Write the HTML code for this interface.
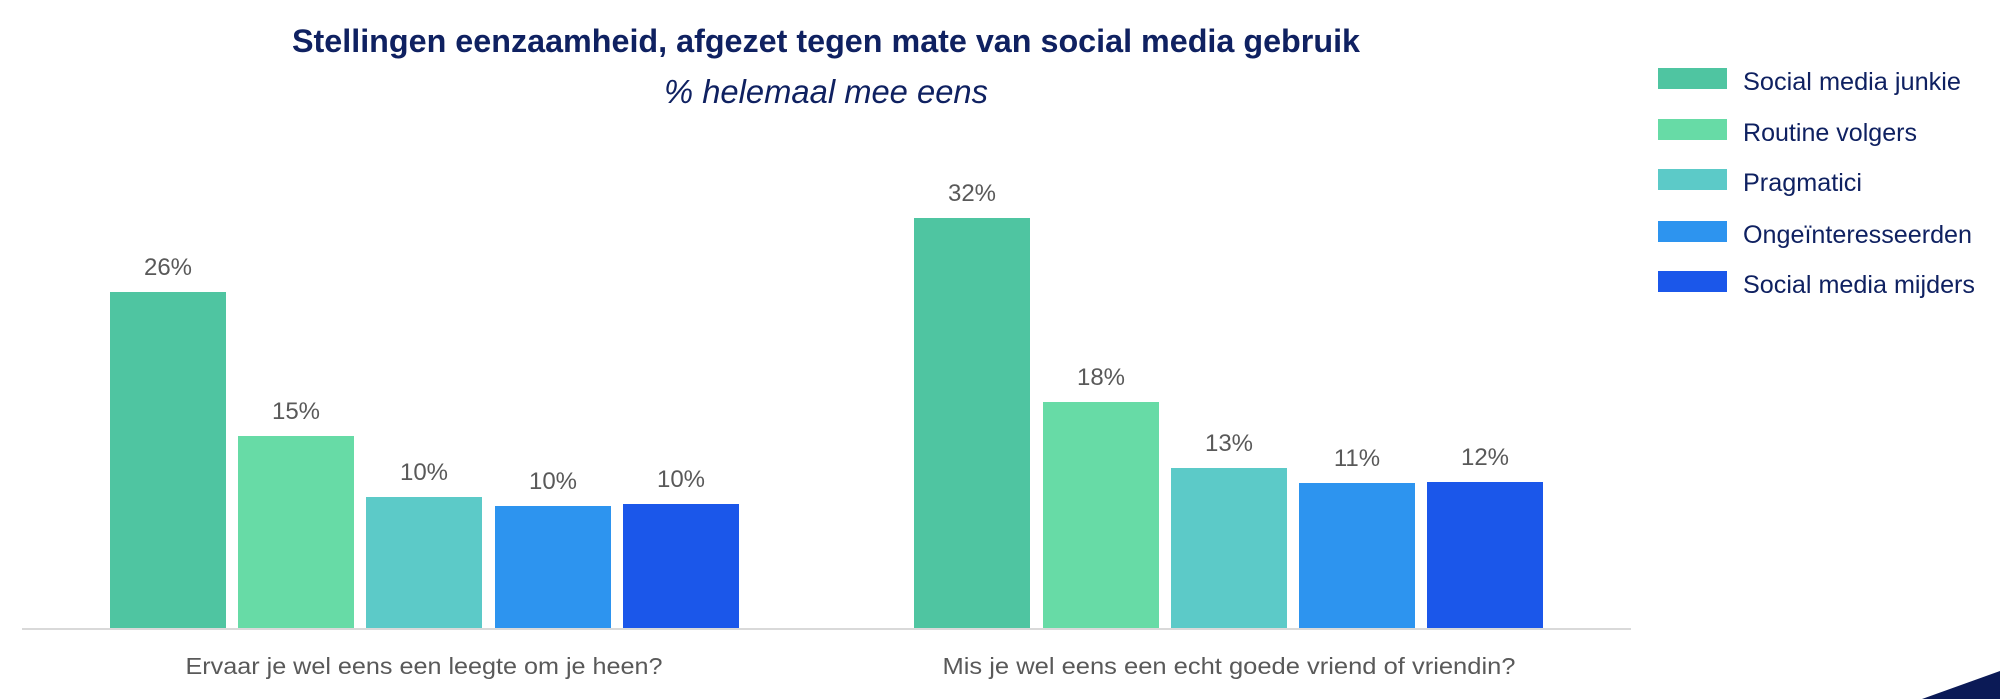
<!DOCTYPE html>
<html>
<head>
<meta charset="utf-8">
<style>
  html, body { margin: 0; padding: 0; background: #ffffff; }
  body { width: 2000px; height: 699px; overflow: hidden; }
  svg { display: block; }
  text { font-family: "Liberation Sans", Arial, sans-serif; }
</style>
</head>
<body>
<svg width="2000" height="699" viewBox="0 0 2000 699" xmlns="http://www.w3.org/2000/svg">
  <rect x="0" y="0" width="2000" height="699" fill="#ffffff"/>

  <!-- Title -->
  <text x="826" y="52" text-anchor="middle" font-size="32" font-weight="bold" fill="#0f2161" textLength="1068" lengthAdjust="spacingAndGlyphs">Stellingen eenzaamheid, afgezet tegen mate van social media gebruik</text>
  <text x="826" y="103" text-anchor="middle" font-size="33" font-style="italic" fill="#0f2161" textLength="324" lengthAdjust="spacingAndGlyphs">% helemaal mee eens</text>

  <!-- Group 1 bars -->
  <rect x="110" y="292" width="116" height="336" fill="#4fc5a1"/>
  <rect x="238" y="436" width="116" height="192" fill="#67dba6"/>
  <rect x="366" y="497" width="116" height="131" fill="#5ccac8"/>
  <rect x="495" y="506" width="116" height="122" fill="#2d94ef"/>
  <rect x="623" y="504" width="116" height="124" fill="#1b57ea"/>

  <!-- Group 2 bars -->
  <rect x="914" y="218" width="116" height="410" fill="#4fc5a1"/>
  <rect x="1043" y="402" width="116" height="226" fill="#67dba6"/>
  <rect x="1171" y="468" width="116" height="160" fill="#5ccac8"/>
  <rect x="1299" y="483" width="116" height="145" fill="#2d94ef"/>
  <rect x="1427" y="482" width="116" height="146" fill="#1b57ea"/>

  <!-- Axis -->
  <line x1="22" y1="629" x2="1631" y2="629" stroke="#d9d9d9" stroke-width="2"/>

  <!-- Value labels -->
  <g font-size="24" fill="#595959" text-anchor="middle">
    <text x="168" y="275">26%</text>
    <text x="296" y="419">15%</text>
    <text x="424" y="480">10%</text>
    <text x="553" y="489">10%</text>
    <text x="681" y="487">10%</text>

    <text x="972" y="201">32%</text>
    <text x="1101" y="385">18%</text>
    <text x="1229" y="451">13%</text>
    <text x="1357" y="466">11%</text>
    <text x="1485" y="465">12%</text>
  </g>

  <!-- Category labels -->
  <text x="424" y="674" text-anchor="middle" font-size="23" fill="#595959" textLength="477" lengthAdjust="spacingAndGlyphs">Ervaar je wel eens een leegte om je heen?</text>
  <text x="1229" y="674" text-anchor="middle" font-size="23" fill="#595959" textLength="573" lengthAdjust="spacingAndGlyphs">Mis je wel eens een echt goede vriend of vriendin?</text>

  <!-- Legend -->
  <g font-size="25" fill="#0f2161">
    <rect x="1658" y="68" width="69" height="21" fill="#4fc5a1"/>
    <text x="1743" y="90" textLength="218" lengthAdjust="spacingAndGlyphs">Social media junkie</text>

    <rect x="1658" y="119" width="69" height="21" fill="#67dba6"/>
    <text x="1743" y="141" textLength="174" lengthAdjust="spacingAndGlyphs">Routine volgers</text>

    <rect x="1658" y="169" width="69" height="21" fill="#5ccac8"/>
    <text x="1743" y="191" textLength="119" lengthAdjust="spacingAndGlyphs">Pragmatici</text>

    <rect x="1658" y="221" width="69" height="21" fill="#2d94ef"/>
    <text x="1743" y="243" textLength="229" lengthAdjust="spacingAndGlyphs">Ongeïnteresseerden</text>

    <rect x="1658" y="271" width="69" height="21" fill="#1b57ea"/>
    <text x="1743" y="293" textLength="232" lengthAdjust="spacingAndGlyphs">Social media mijders</text>
  </g>

  <!-- Corner decoration -->
  <polygon points="1922,699 2000,671 2000,699" fill="#0b1a56"/>
</svg>
</body>
</html>
